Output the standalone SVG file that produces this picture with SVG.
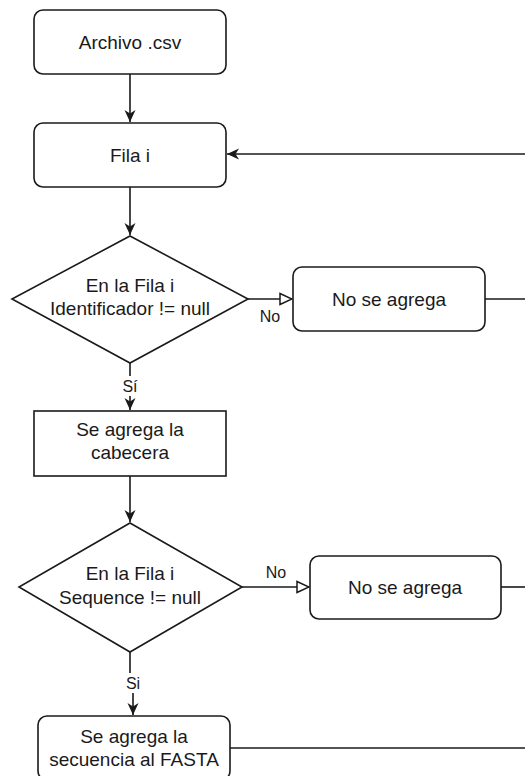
<svg xmlns="http://www.w3.org/2000/svg" width="525" height="776" viewBox="0 0 525 776">
<style>
.box{fill:#fff;stroke:#1a1a1a;stroke-width:1.6}
.t{font-family:"Liberation Sans",Arial,sans-serif;font-size:19px;fill:#1a1a1a;text-anchor:middle;dominant-baseline:central}
.lbl{font-family:"Liberation Sans",Arial,sans-serif;font-size:16px;fill:#1a1a1a;text-anchor:middle;dominant-baseline:central}
.c{fill:none;stroke:#1a1a1a;stroke-width:1.6}
</style>
<defs>
<marker id="arr" markerUnits="userSpaceOnUse" markerWidth="12" markerHeight="12" viewBox="0 0 12 12" refX="12" refY="6" orient="auto">
<path d="M0,0.5 L12,6 L0,11.5 L3.5,6 z" fill="#1a1a1a"/>
</marker>
<marker id="open" markerUnits="userSpaceOnUse" markerWidth="14" markerHeight="14" viewBox="0 0 14 14" refX="13" refY="7" orient="auto">
<path d="M1,1.5 L13,7 L1,12.5 z" fill="#fff" stroke="#1a1a1a" stroke-width="1.5"/>
</marker>
</defs>
<g id="connectors">
<path class="c" d="M130,74 V122" marker-end="url(#arr)" stroke-width="2"/>
<path class="c" d="M525,154 H227" marker-end="url(#arr)"/>
<path class="c" d="M130,187 V235" marker-end="url(#arr)"/>
<path class="c" d="M248,299 H292" marker-end="url(#open)"/>
<path class="c" d="M485,299 H525"/>
<path class="c" d="M130,363 V410" marker-end="url(#arr)"/>
<path class="c" d="M130,476 V522" marker-end="url(#arr)" stroke-width="2"/>
<path class="c" d="M242,587 H309" marker-end="url(#open)"/>
<path class="c" d="M501,587 H525"/>
<path class="c" d="M130,652 V683 H133 V715" marker-end="url(#arr)"/>
<path class="c" d="M230,748 H525"/>
<rect x="121" y="376" width="18" height="20" fill="#fff"/>
<text class="lbl" x="130" y="386">Sí</text>
<text class="lbl" x="270" y="316">No</text>
<rect x="125" y="673" width="17" height="20" fill="#fff"/>
<text class="lbl" x="133" y="683">Si</text>
<text class="lbl" x="276" y="572">No</text>
</g>
<g id="archivo">
<rect class="box" x="34" y="10" width="192" height="64" rx="9"/>
<text class="t" x="130" y="42">Archivo .csv</text>
</g>
<g id="fila">
<rect class="box" x="34" y="123" width="192" height="64" rx="9"/>
<text class="t" x="130" y="155">Fila i</text>
</g>
<g id="dec1">
<polygon class="box" points="130,236 248,299 130,363 12,299"/>
<text class="t" x="130" y="285">En la Fila i</text>
<text class="t" x="130" y="308">Identificador != null</text>
</g>
<g id="noagrega1">
<rect class="box" x="293" y="267" width="192" height="64" rx="9"/>
<text class="t" x="389" y="299">No se agrega</text>
</g>
<g id="cabecera">
<rect class="box" x="34" y="411" width="192" height="65"/>
<text class="t" x="130" y="429">Se agrega la</text>
<text class="t" x="130" y="452">cabecera</text>
</g>
<g id="dec2">
<polygon class="box" points="130,523 242,587 130,652 19,587"/>
<text class="t" x="130" y="573">En la Fila i</text>
<text class="t" x="130" y="597">Sequence != null</text>
</g>
<g id="noagrega2">
<rect class="box" x="310" y="556" width="191" height="63" rx="9"/>
<text class="t" x="405" y="587">No se agrega</text>
</g>
<g id="fasta">
<rect class="box" x="38" y="716" width="192" height="64" rx="9"/>
<text class="t" x="134" y="736">Se agrega la</text>
<text class="t" x="134" y="759">secuencia al FASTA</text>
</g>
</svg>
